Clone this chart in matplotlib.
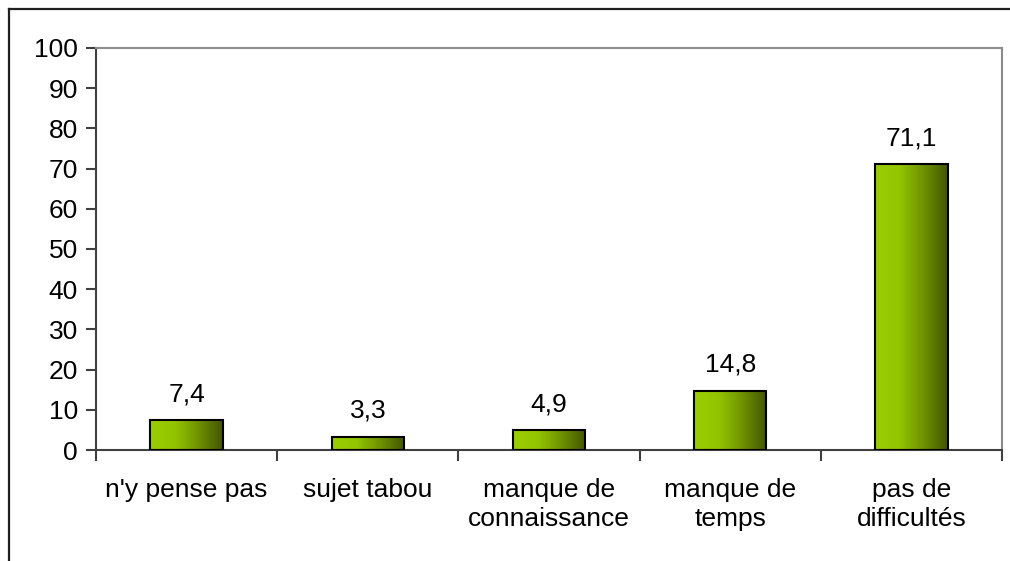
import numpy as np
import matplotlib.pyplot as plt
from matplotlib.colors import LinearSegmentedColormap
from matplotlib.lines import Line2D

plt.rcParams['font.family'] = ['Liberation Sans', 'DejaVu Sans']

categories = ["n'y pense pas", "sujet tabou", "manque de\nconnaissance",
              "manque de\ntemps", "pas de\ndifficultés"]
values = [7.4, 3.3, 4.9, 14.8, 71.1]
labels = ["7,4", "3,3", "4,9", "14,8", "71,1"]
yticks = [0, 10, 20, 30, 40, 50, 60, 70, 80, 90, 100]

fig = plt.figure(figsize=(10.1, 5.61), dpi=100)
ax = fig.add_axes([96 / 1010, 1 - 450 / 561, 906 / 1010, 402 / 561])

x = np.arange(len(categories))
width = 0.4
bars = ax.bar(x, values, width, color='none', edgecolor='black', linewidth=1.5, zorder=3)

# horizontal gradient inside each bar
cmap = LinearSegmentedColormap.from_list('grn', ['#9ACD00', '#94C600', '#6E9200', '#435500'])
grad = np.linspace(0, 1, 256).reshape(1, -1)
for b in bars:
    x0, y0 = b.get_x(), b.get_y()
    im = ax.imshow(grad, cmap=cmap, aspect='auto', zorder=2,
                   extent=[x0, x0 + b.get_width(), y0, y0 + b.get_height()])
    im.set_clip_path(b)

for xi, v, lab in zip(x, values, labels):
    ax.annotate(lab, (xi, v), xytext=(0, 10), textcoords='offset points',
                ha='center', va='bottom', fontsize=19, color='black')

ax.set_xlim(-0.5, len(categories) - 0.5)
ax.set_ylim(0, 100)
ax.set_yticks(yticks)
ax.set_yticklabels([str(t) for t in yticks], fontsize=19)
ax.set_xticks(x)
ax.set_xticklabels(categories, fontsize=19, linespacing=1.25)
ax.tick_params(axis='x', length=0, pad=20)
ax.tick_params(axis='y', length=7, width=1.5, color='#404040', pad=6)
ax.set_xticks(np.arange(-0.5, len(categories)), minor=True)
ax.tick_params(axis='x', which='minor', length=8, width=1.5, color='#404040')

for side in ['left', 'bottom']:
    ax.spines[side].set_color('#404040')
    ax.spines[side].set_linewidth(1.5)
for side in ['top', 'right']:
    ax.spines[side].set_color('#8c8c8c')
    ax.spines[side].set_linewidth(1.5)

# outer frame of the original chart (top and left edges only visible)
fig.add_artist(Line2D([9 / 1010, 1.01], [1 - 9 / 561, 1 - 9 / 561], color='#202020', lw=1.6))
fig.add_artist(Line2D([9 / 1010, 9 / 1010], [-0.01, 1 - 9 / 561], color='#202020', lw=1.6))

fig.savefig('out.png', dpi=100)
